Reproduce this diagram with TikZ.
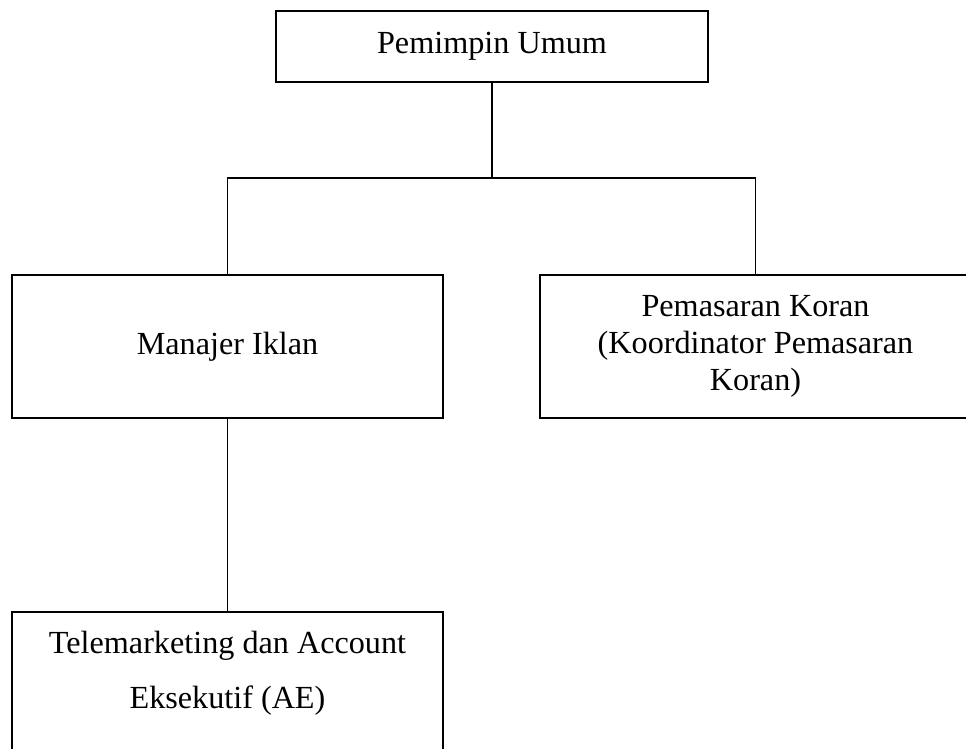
\documentclass[tikz,border=0pt]{standalone}
\usepackage{fontspec}
\setmainfont{Liberation Serif}
\begin{document}
\begin{tikzpicture}[x=1pt,y=-1pt,
  orgbox/.style={draw, line width=1.8pt, rectangle, inner sep=0pt,
    minimum width=431pt, minimum height=143pt, align=center,
    font=\fontsize{32.2}{36.7}\selectfont},
  link/.style={line width=1.8pt}]
\useasboundingbox (0,0) rectangle (966,749);
\clip (0,0) rectangle (966,749);
\node[orgbox, minimum width=432pt, minimum height=71pt] (top) at (492,46.5) {Pemimpin Umum};
\node[orgbox] (mi) at (227.5,346.5) {Manajer Iklan};
\node[orgbox] (pk) at (755.5,346.5) {Pemasaran Koran\\(Koordinator Pemasaran\\Koran)};
\node[draw, line width=1.8pt, rectangle, inner sep=0pt, anchor=north] (tele) at (227.5,611)
  {\parbox[c][170pt][t]{431pt}{\centering\fontsize{32.2}{55}\selectfont
   \vspace*{19pt}Telemarketing dan Account\\Eksekutif (AE)}};
\coordinate (bus) at (492,178);
\draw[link] (top.south) -- (top.south |- bus);
\draw[link] (mi.north) |- (pk.north |- bus) -- (pk.north);
\draw[link] (mi.south) -- (tele.north);
\end{tikzpicture}
\end{document}
